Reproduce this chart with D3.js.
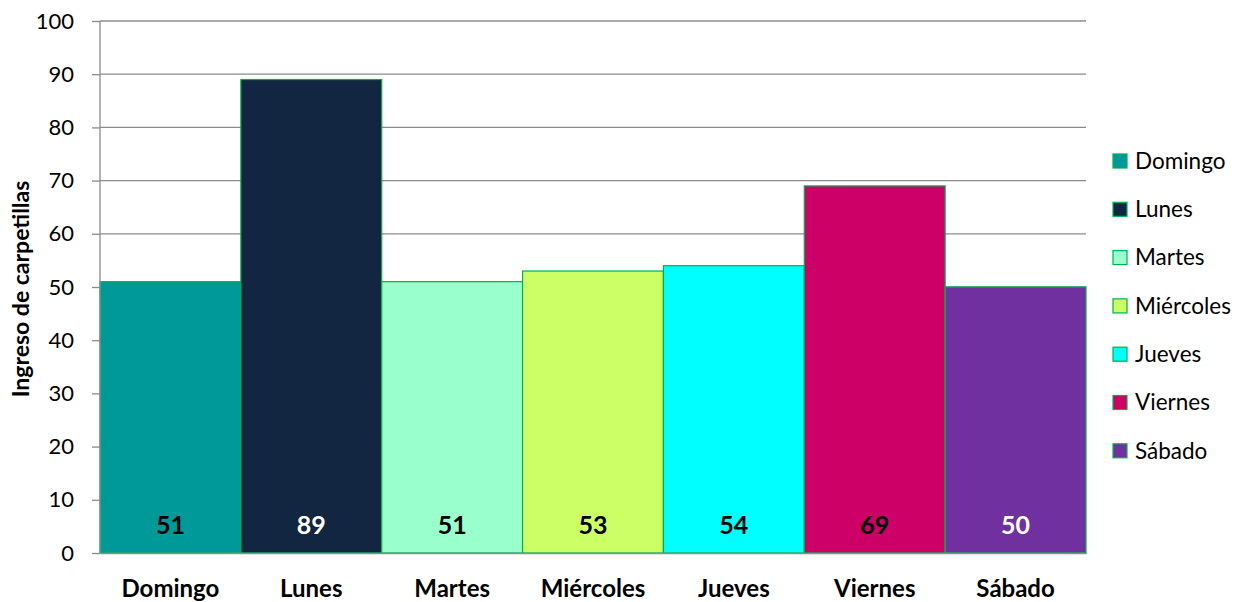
<!DOCTYPE html>
<html>
<head>
<meta charset="utf-8">
<script src="https://cdn.jsdelivr.net/npm/d3@7"></script>
<style>
  body { margin: 0; background: #fff; }
  text { font-family: Lato, "Open Sans", sans-serif; }
</style>
</head>
<body>
<div id="chart"></div>
<script>
// Chart data
const days = ["Domingo", "Lunes", "Martes", "Miércoles", "Jueves", "Viernes", "Sábado"];
const values = [51, 89, 51, 53, 54, 69, 50];
const colors = ["#009999", "#122641", "#99FFCC", "#CCFF66", "#00FFFF", "#CC0066", "#7030A0"];
const labelColors = ["#000", "#fff", "#000", "#000", "#000", "#000", "#fff"];
const yTicks = [0, 10, 20, 30, 40, 50, 60, 70, 80, 90, 100];

const W = 1249, H = 602;
const margin = { top: 21, right: 163, bottom: 49, left: 100 },
      width = W - margin.left - margin.right,
      height = H - margin.top - margin.bottom;

const svg = d3.select("#chart")
              .append("svg")
              .attr("width", W)
              .attr("height", H);

const g = svg.append("g")
             .attr("transform", `translate(${margin.left},${margin.top})`);

const x = d3.scaleBand()
            .domain(days)
            .range([0, width])
            .padding(0);

const y = d3.scaleLinear()
            .domain([0, 100])
            .range([height, 0]);

// gridlines
g.selectAll(".grid")
 .data(yTicks.filter(d => d > 0))
 .enter().append("line")
 .attr("x1", 0).attr("x2", width)
 .attr("y1", d => y(d)).attr("y2", d => y(d))
 .attr("stroke", "#8c8c8c")
 .attr("stroke-width", 1.3);

// bars
g.selectAll(".bar")
 .data(days)
 .enter().append("rect")
 .attr("x", d => x(d))
 .attr("y", (d, i) => y(values[i]))
 .attr("width", x.bandwidth())
 .attr("height", (d, i) => height - y(values[i]))
 .attr("fill", (d, i) => colors[i])
 .attr("stroke", "#00B050")
 .attr("stroke-width", 1.2);

// value labels
g.selectAll(".val")
 .data(days)
 .enter().append("text")
 .attr("x", d => x(d) + x.bandwidth() / 2)
 .attr("y", height - 19)
 .attr("text-anchor", "middle")
 .attr("font-size", "25px")
 .attr("font-weight", "bold")
 .attr("fill", (d, i) => labelColors[i])
 .text((d, i) => values[i]);

// y axis
const yAxis = g.append("g")
               .call(d3.axisLeft(y).tickValues(yTicks).tickSize(8).tickPadding(18));
yAxis.select(".domain").attr("stroke", "#8c8c8c").attr("stroke-width", 1.3)
     .attr("d", `M0,${height}V0`);
yAxis.selectAll(".tick line").attr("stroke", "#8c8c8c").attr("stroke-width", 1.3);
yAxis.selectAll(".tick text").attr("font-size", "22px").attr("fill", "#000")
     .style("font-family", "Lato, 'Open Sans', sans-serif");

// x axis
const xAxis = g.append("g")
               .attr("transform", `translate(0,${height})`)
               .call(d3.axisBottom(x).tickSize(0).tickPadding(27));
xAxis.select(".domain").attr("stroke", "#8c8c8c").attr("stroke-width", 1.3);
xAxis.selectAll(".tick text").attr("font-size", "24px").attr("font-weight", "bold")
     .attr("fill", "#000").style("font-family", "Lato, 'Open Sans', sans-serif");

// y axis title
svg.append("text")
   .attr("transform", `translate(29,289) rotate(-90)`)
   .attr("text-anchor", "middle")
   .attr("font-size", "23px")
   .attr("font-weight", "bold")
   .text("Ingreso de carpetillas");

// legend
const legend = svg.append("g")
                  .attr("transform", "translate(1113,161)");
const row = legend.selectAll(".row")
                  .data(days)
                  .enter().append("g")
                  .attr("transform", (d, i) => `translate(0,${i * 48.3})`);
row.append("rect")
   .attr("x", 0).attr("y", -7)
   .attr("width", 14).attr("height", 14)
   .attr("fill", (d, i) => colors[i])
   .attr("stroke", "#00B050")
   .attr("stroke-width", 1.2);
row.append("text")
   .attr("x", 22)
   .attr("y", 0)
   .attr("dy", "0.35em")
   .attr("font-size", "22.5px")
   .text(d => d);
</script>
</body>
</html>
